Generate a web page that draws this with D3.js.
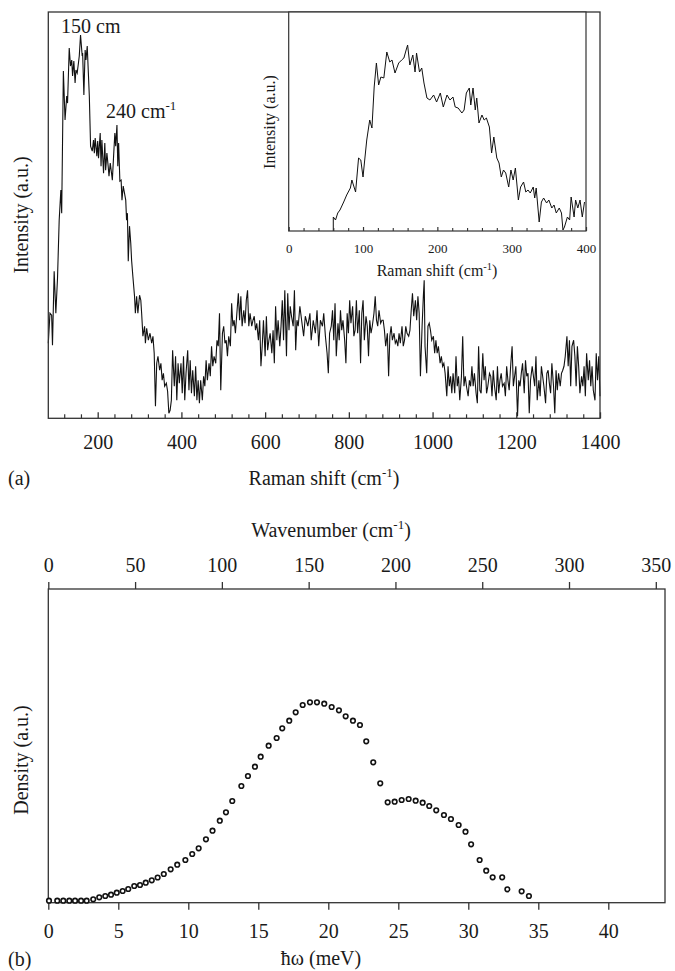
<!DOCTYPE html>
<html><head><meta charset="utf-8">
<script src="https://cdn.jsdelivr.net/npm/d3@7"></script>
<style>
body{margin:0;background:#fff}
svg{display:block}
svg text{font-family:"Liberation Serif","DejaVu Serif","Times New Roman",Times,serif !important;fill:#1a1a1a}
</style>
</head><body>
<svg id="c" width="675" height="971" font-family="Liberation Serif, DejaVu Serif, serif"></svg>
<script>
// ---------- DATA ----------
// Panel (a): Raman spectrum, shift (cm^-1) and intensity (a.u.)
const ramanShift = [82,86,90,92,96,100,104,108,112,114,118,122,126,128,132,135,138,140,143,146,148,151,154,156,159,163,164,167,170,172,175,178,180,183,187,190,192,194,198,200,202,206,208,210,214,217,219,222,225,227,230,233,235,238,241,243,246,248,250,253,256,258,261,264,267,269,271,273,276,279,281,284,288,290,293,296,300,303,305,308,312,314,317,321,325,329,332,335,338,341,344,348,351,354,357,360,364,367,370,373,376,379,383,386,389,392,395,399,402,405,408,411,415,418,421,424,427,431,434,437,440,443,446,450,453,456,459,462,466,469,472,475,478,482,485,488,491,494,498,501,504,507,510,513,517,520,523,526,529,533,536,539,542,545,549,552,555,558,561,564,568,571,574,577,580,584,587,590,593,596,600,603,606,609,612,616,619,622,625,628,631,635,638,641,644,647,651,654,657,660,663,667,670,673,676,679,683,692,696,702,707,710,715,720,724,728,732,737,740,744,748,751,754,758,761,764,767,770,774,777,780,783,786,790,793,796,799,802,805,809,812,815,818,821,825,828,831,834,837,841,844,847,850,853,856,860,863,866,869,872,876,879,882,885,888,892,895,898,901,904,908,911,914,917,920,923,927,930,933,936,939,943,946,949,952,955,959,962,965,968,971,975,978,980,982,986,989,992,995,998,1002,1005,1008,1011,1014,1018,1021,1024,1027,1030,1034,1037,1040,1043,1046,1049,1053,1056,1059,1062,1065,1069,1072,1075,1078,1081,1085,1088,1091,1094,1097,1100,1104,1107,1110,1113,1116,1120,1123,1126,1129,1132,1136,1139,1142,1145,1148,1152,1155,1158,1161,1164,1167,1171,1174,1177,1180,1183,1187,1190,1193,1196,1199,1203,1206,1209,1212,1215,1219,1222,1225,1228,1231,1234,1238,1241,1244,1247,1250,1254,1257,1260,1263,1266,1270,1273,1276,1279,1282,1285,1289,1292,1295,1298,1301,1305,1308,1311,1314,1317,1321,1324,1327,1330,1333,1337,1340,1343,1346,1349,1352,1356,1359,1362,1365,1368,1372,1375,1378,1381,1384,1388,1391,1394,1397,1400];
const ramanIntensity = [75,105,103,73,147,105,140,198,228,205,347,298,322,315,370,352,358,342,357,335,348,345,355,362,383,362,365,323,368,358,372,342,322,272,267,278,265,280,262,277,260,285,252,278,245,275,248,265,252,242,255,245,238,262,285,272,293,252,275,237,238,218,232,225,218,198,205,157,192,175,158,142,122,105,122,105,123,118,105,82,92,75,90,78,85,75,82,65,12,55,62,48,55,38,45,32,35,27,5,8,18,68,32,62,18,55,35,55,25,62,18,45,68,28,58,25,48,22,52,18,38,15,38,18,42,32,58,38,55,42,72,52,62,55,78,72,105,28,85,92,75,78,62,82,72,115,92,98,85,108,125,98,122,92,108,95,118,128,92,105,92,98,102,88,95,78,98,52,72,98,62,102,68,78,85,65,88,55,112,78,98,72,92,118,78,128,62,125,88,112,102,92,128,68,98,92,112,82,102,92,105,78,98,85,108,72,98,92,105,82,65,45,85,92,108,78,115,62,95,78,108,88,98,78,55,105,85,118,95,112,82,88,118,85,108,55,105,118,78,102,92,62,98,85,92,105,122,98,92,108,95,98,98,88,72,85,42,82,92,78,85,75,78,72,85,75,92,72,78,92,85,82,88,108,125,102,118,98,122,105,42,92,122,138,72,45,92,95,88,78,82,65,78,65,72,55,62,52,55,45,22,52,32,42,25,45,25,62,32,42,18,42,82,32,42,32,22,38,32,52,32,45,25,15,72,28,25,65,38,52,25,32,45,42,22,48,32,18,52,25,38,45,32,35,22,52,38,28,55,72,32,42,52,2,38,32,45,55,25,58,42,45,5,38,52,42,32,62,18,38,22,52,42,32,15,45,48,35,25,55,32,5,48,28,45,32,45,48,52,62,82,52,78,32,72,78,62,32,72,52,25,42,32,52,22,65,38,58,32,52,28,18,65,38,62,22];
const ramanTicks = [200,400,600,800,1000,1200,1400];
const ramanMinorTicks = [120,160,240,280,320,360,440,480,520,560,640,680,720,760,840,880,920,960,1040,1080,1120,1160,1240,1280,1320,1360];

// Inset of panel (a)
const insetShift = [60,60,63,66,69,74,78,83,85,90,94,97,100,102,105,109,112,115,118,121,124,128,132,136,139,143,148,152,155,158,160,163,167,170,172,176,179,182,186,190,195,199,204,208,213,217,221,224,228,233,236,239,243,245,248,251,253,256,260,263,266,270,273,276,280,283,286,289,292,296,299,302,305,309,312,316,319,322,325,329,331,333,337,340,343,347,350,354,357,360,364,367,369,371,375,378,380,384,386,389,392,395,398];
const insetIntensity = [0,14,11,18,21,29,36,43,51,39,73,71,54,69,91,111,103,144,168,146,154,153,179,169,171,158,168,171,173,181,186,166,176,159,178,159,163,148,133,131,136,129,138,124,136,131,134,124,123,118,121,138,143,126,143,121,133,108,116,111,113,104,78,94,73,68,54,61,58,44,61,51,63,31,44,49,39,41,38,44,33,43,9,29,33,28,31,23,26,18,23,18,1,4,14,11,34,14,31,23,31,14,29];
const insetTicks = [0,100,200,300,400];
const insetMinorTicks = [20,40,60,80,120,140,160,180,220,240,260,280,320,340,360,380];

// Panel (b): density of states
const energyMeV = [0.05,0.64,1.07,1.5,1.91,2.34,2.74,3.21,3.64,4.07,4.48,4.89,5.31,5.71,6.14,6.55,6.96,7.39,7.81,8.25,8.74,9.21,9.79,10.28,10.74,11.26,11.73,12.25,12.69,13.14,13.79,14.26,14.76,15.17,15.74,16.31,16.71,17.21,17.67,18.17,18.69,19.19,19.71,20.24,20.76,21.24,21.76,22.26,22.71,23.21,23.71,24.24,24.74,25.24,25.74,26.24,26.74,27.21,27.71,28.26,28.76,29.31,29.8,30.2,30.81,31.28,31.74,32.42,32.79,33.81,34.33];
const density = [2,2,2,2,2,2,2,3.4,5.4,6.7,8,10,11.7,13.7,16.7,17.7,20,22.4,25.2,28.7,33.4,38,42.7,48.7,54.4,63.4,72,82,90.4,101.7,116.7,126.7,136,146,157,164.7,174.4,182,190.4,197.7,200.4,200.4,199,195.7,192.4,186.4,182,177.7,161.4,140.4,119.4,100.4,101,102.7,103.7,102,100,96.7,92.4,87.7,83.7,77.7,71,58.4,42.7,32,25.4,25.4,13.4,11.4,6.7];
const meVTicks = [0,5,10,15,20,25,30,35,40];
const wavenumberTicks = [0,50,100,150,200,250,300,350];

// ---------- DRAWING ----------
const FONT = "Liberation Serif, DejaVu Serif, serif";
const svg = d3.select("#c");
const AX = "#333";
const fmt = d3.format("d");

function supLabel(sel, base, sup, after, size) {
  sel.append("tspan").text(base);
  sel.append("tspan").attr("dy", -size*0.4).attr("font-size", size*0.65).text(sup);
  if (after) sel.append("tspan").attr("dy", size*0.4).text(after);
}
function styleAxisText(g, y, size) {
  g.attr("font-family", FONT);
  g.selectAll("text").attr("y", y).attr("dy", null).attr("font-size", size)
    .attr("font-family", FONT).attr("fill", "#1a1a1a");
}

// Panel (a) main
const xA = d3.scaleLinear().domain([82,1400]).range([48.3,600]);
const yA = d3.scaleLinear().domain([0,406]).range([418.3,12]);

const gA = svg.append("g");
gA.append("path")
  .datum(ramanShift.map((s,i)=>[s,ramanIntensity[i]]))
  .attr("fill","none").attr("stroke","#111").attr("stroke-width",1.1)
  .attr("d", d3.line().x(d=>xA(d[0])).y(d=>yA(d[1])));

// inset
const xI = d3.scaleLinear().domain([0,400]).range([288.7,586]);
const yI = d3.scaleLinear().domain([0,219]).range([231,12]);
const gI = svg.append("g");
gI.append("rect").attr("x",288.7).attr("y",12).attr("width",586-288.7).attr("height",231-12)
  .attr("fill","#fff").attr("stroke",AX).attr("stroke-width",1.2);
gI.append("path")
  .datum(insetShift.map((s,i)=>[s,insetIntensity[i]]))
  .attr("fill","none").attr("stroke","#111").attr("stroke-width",1)
  .attr("d", d3.line().x(d=>xI(d[0])).y(d=>yI(d[1])));
const insAx = gI.append("g").attr("transform","translate(0,231)")
  .call(d3.axisBottom(xI).tickValues(insetTicks).tickFormat(fmt).tickSize(-4).tickPadding(0));
insAx.select(".domain").remove();
insAx.selectAll("line").attr("stroke",AX).attr("stroke-width",1.2);
styleAxisText(insAx, 21.5, 13);
const insMin = gI.append("g").attr("transform","translate(0,231)")
  .call(d3.axisBottom(xI).tickValues(insetMinorTicks).tickSize(-3).tickFormat(""));
insMin.select(".domain").remove();
insMin.selectAll("line").attr("stroke",AX).attr("stroke-width",1.1);
gI.append("text").attr("x",437).attr("y",276).attr("text-anchor","middle").attr("font-size",16)
  .call(s=>supLabel(s,"Raman shift (cm","-1",")",16));
gI.append("text").attr("transform","translate(275,122) rotate(-90)").attr("text-anchor","middle")
  .attr("font-size",16).text("Intensity (a.u.)");

// main frame and axes
gA.append("rect").attr("x",48.3).attr("y",12).attr("width",600-48.3).attr("height",418.3-12)
  .attr("fill","none").attr("stroke",AX).attr("stroke-width",1.3);
const axA = gA.append("g").attr("transform","translate(0,418.3)")
  .call(d3.axisBottom(xA).tickValues(ramanTicks).tickFormat(fmt).tickSize(-6).tickPadding(0));
axA.select(".domain").remove();
axA.selectAll("line").attr("stroke",AX).attr("stroke-width",1.3);
styleAxisText(axA, 31, 20);
const axAm = gA.append("g").attr("transform","translate(0,418.3)")
  .call(d3.axisBottom(xA).tickValues(ramanMinorTicks).tickSize(-4).tickFormat(""));
axAm.select(".domain").remove();
axAm.selectAll("line").attr("stroke",AX).attr("stroke-width",1.2);

gA.append("text").attr("x",324).attr("y",485).attr("text-anchor","middle").attr("font-size",20)
  .call(s=>supLabel(s,"Raman shift (cm","-1",")",20));
gA.append("text").attr("x",8).attr("y",485).attr("font-size",20).text("(a)");
gA.append("text").attr("transform","translate(28,215) rotate(-90)").attr("text-anchor","middle")
  .attr("font-size",20).text("Intensity (a.u.)");
gA.append("text").attr("x",61).attr("y",33).attr("font-size",20).text("150 cm");
gA.append("text").attr("x",106).attr("y",118).attr("font-size",20)
  .call(s=>supLabel(s,"240 cm","-1",null,20));

// Panel (b)
const xE = d3.scaleLinear().domain([0,44.05]).range([48.3,665]);
const xW = d3.scaleLinear().domain([0,355.3]).range([48.3,665]);
const yD = d3.scaleLinear().domain([0,313.7]).range([902.7,589]);
const gB = svg.append("g");
gB.append("rect").attr("x",48.3).attr("y",589).attr("width",665-48.3).attr("height",902.7-589)
  .attr("fill","none").attr("stroke",AX).attr("stroke-width",1.3);
const axB = gB.append("g").attr("transform","translate(0,902.7)")
  .call(d3.axisBottom(xE).tickValues(meVTicks).tickFormat(fmt).tickSize(7).tickPadding(0));
axB.select(".domain").remove();
axB.selectAll("line").attr("stroke",AX).attr("stroke-width",1.3);
styleAxisText(axB, 35, 20);
const axT = gB.append("g").attr("transform","translate(0,589)")
  .call(d3.axisTop(xW).tickValues(wavenumberTicks).tickFormat(fmt).tickSize(7).tickPadding(0));
axT.select(".domain").remove();
axT.selectAll("line").attr("stroke",AX).attr("stroke-width",1.3);
styleAxisText(axT, -17, 20);

gB.selectAll("circle.pt").data(energyMeV.map((e,i)=>[e,density[i]])).enter()
  .append("circle").attr("class","pt")
  .attr("cx",d=>xE(d[0])).attr("cy",d=>yD(d[1])).attr("r",2.3)
  .attr("fill","#fff").attr("stroke","#111").attr("stroke-width",1.6);

gB.append("text").attr("x",331).attr("y",537).attr("text-anchor","middle").attr("font-size",20)
  .call(s=>supLabel(s,"Wavenumber (cm","-1",")",20));
gB.append("text").attr("x",321).attr("y",965).attr("text-anchor","middle").attr("font-size",20)
  .text("ħω (meV)");
gB.append("text").attr("x",8).attr("y",966).attr("font-size",20).text("(b)");
gB.append("text").attr("transform","translate(28,760) rotate(-90)").attr("text-anchor","middle")
  .attr("font-size",20).text("Density (a.u.)");
</script>
</body></html>
